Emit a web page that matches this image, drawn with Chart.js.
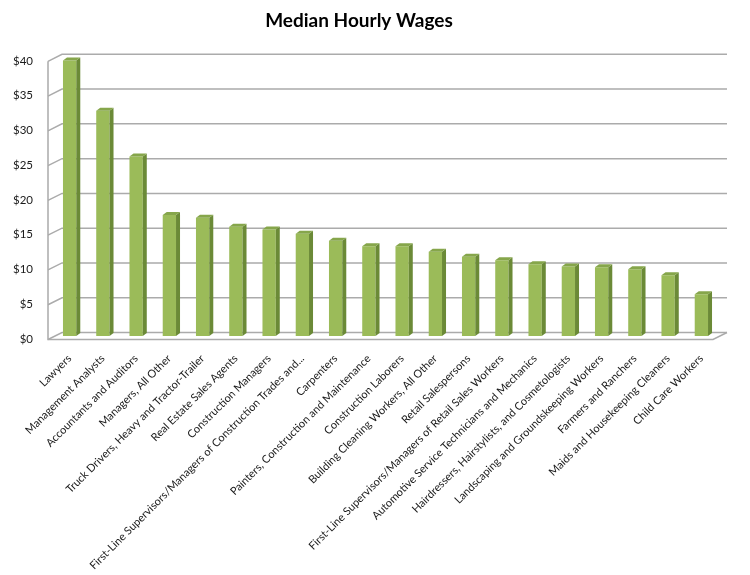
<!DOCTYPE html>
<html>
<head>
<meta charset="utf-8">
<script src="https://cdn.jsdelivr.net/npm/chart.js@4.4.1/dist/chart.umd.min.js"></script>
<style>
    html, body { margin: 0; padding: 0; background: #ffffff; }
    #wrap { width: 750px; height: 575px; position: relative; }
</style>
</head>
<body>
<div id="wrap"><canvas id="wageChart" width="750" height="575"></canvas></div>
<script>
var occupations = [
    'Lawyers',
    'Management Analysts',
    'Accountants and Auditors',
    'Managers, All Other',
    'Truck Drivers, Heavy and Tractor-Trailer',
    'Real Estate Sales Agents',
    'Construction Managers',
    'First-Line Supervisors/Managers of Construction Trades and...',
    'Carpenters',
    'Painters, Construction and Maintenance',
    'Construction Laborers',
    'Building Cleaning Workers, All Other',
    'Retail Salespersons',
    'First-Line Supervisors/Managers of Retail Sales Workers',
    'Automotive Service Technicians and Mechanics',
    'Hairdressers, Hairstylists, and Cosmetologists',
    'Landscaping and Groundskeeping Workers',
    'Farmers and Ranchers',
    'Maids and Housekeeping Cleaners',
    'Child Care Workers'
];
var medianWages = [39.6, 32.4, 25.8, 17.4, 17.0, 15.7, 15.3, 14.7, 13.7, 12.9,
                   12.9, 12.1, 11.4, 10.9, 10.3, 10.0, 9.9, 9.6, 8.75, 6.0];
var yTicks = [0, 5, 10, 15, 20, 25, 30, 35, 40];

var frontOff = { x: -5, y: 3.5 };   // front edge of the floor / side wall
var backOff = { x: 9, y: -3.5 };    // back wall

// draws the Excel style 3d walls behind the bars
var wallPlugin = {
    id: 'walls',
    beforeDatasetsDraw: function (chart) {
        var ctx = chart.ctx;
        var area = chart.chartArea;
        var yScale = chart.scales.y;
        ctx.save();
        ctx.lineWidth = 1.5;
        ctx.strokeStyle = '#ababab';
        yTicks.forEach(function (t) {
            var y = yScale.getPixelForValue(t);
            ctx.beginPath();
            ctx.moveTo(area.left + frontOff.x, y + frontOff.y);
            ctx.lineTo(area.left + backOff.x, y + backOff.y);
            ctx.lineTo(area.right + backOff.x, y + backOff.y);
            ctx.stroke();
        });
        var top = yScale.getPixelForValue(40);
        var bottom = yScale.getPixelForValue(0);
        ctx.beginPath();
        ctx.moveTo(area.left + frontOff.x, top + frontOff.y);
        ctx.lineTo(area.left + frontOff.x, bottom + frontOff.y);
        ctx.lineTo(area.right + frontOff.x, bottom + frontOff.y);
        ctx.lineTo(area.right + backOff.x, bottom + backOff.y);
        ctx.stroke();
        ctx.restore();
    }
};

// side and top faces of each bar
var barDepthPlugin = {
    id: 'barDepth',
    afterDatasetsDraw: function (chart) {
        var ctx = chart.ctx;
        var meta = chart.getDatasetMeta(0);
        var dx = 4, dy = 3;
        ctx.save();
        meta.data.forEach(function (bar) {
            var half = bar.width / 2;
            var l = bar.x - half, r = bar.x + half;
            var t = bar.y, b = bar.base;
            ctx.fillStyle = '#6b8a37';
            ctx.beginPath();
            ctx.moveTo(r, t);
            ctx.lineTo(r + dx, t - dy);
            ctx.lineTo(r + dx, b - dy);
            ctx.lineTo(r, b);
            ctx.closePath();
            ctx.fill();
            ctx.fillStyle = '#86a64b';
            ctx.beginPath();
            ctx.moveTo(l, t);
            ctx.lineTo(l + dx, t - dy);
            ctx.lineTo(r + dx, t - dy);
            ctx.lineTo(r, t);
            ctx.closePath();
            ctx.fill();
        });
        ctx.restore();
    }
};

var wageCanvas = document.getElementById('wageChart').getContext('2d');
var wageChart = new Chart(wageCanvas, {
    type: 'bar',
    data: {
        labels: occupations,
        datasets: [{
            data: medianWages,
            backgroundColor: '#9bbb59',
            borderWidth: 0,
            barPercentage: 0.4,
            categoryPercentage: 1.0
        }]
    },
    options: {
        responsive: false,
        animation: false,
        layout: { padding: { left: 0, right: 32, top: 0, bottom: 0 } },
        plugins: {
            legend: { display: false },
            tooltip: { enabled: false },
            title: {
                display: true,
                text: 'Median Hourly Wages',
                color: '#000000',
                font: { family: 'Lato', size: 19, weight: 'bold' },
                padding: { top: 9, bottom: 26 }
            }
        },
        scales: {
            x: {
                grid: { display: false },
                border: { display: false },
                ticks: {
                    color: '#1a1a1a',
                    font: { family: 'Lato', size: 11 },
                    minRotation: 45,
                    maxRotation: 45,
                    autoSkip: false,
                    padding: 8
                },
                afterFit: function (scale) { scale.height = 239; }
            },
            y: {
                min: 0,
                max: 40,
                grid: { display: false },
                border: { display: false },
                ticks: {
                    stepSize: 5,
                    color: '#1a1a1a',
                    font: { family: 'Lato', size: 11.5 },
                    padding: 12,
                    labelOffset: 3,
                    callback: function (v) { return '$' + v; }
                },
                afterFit: function (scale) { scale.width = 53; }
            }
        }
    },
    plugins: [wallPlugin, barDepthPlugin]
});
</script>
</body>
</html>
